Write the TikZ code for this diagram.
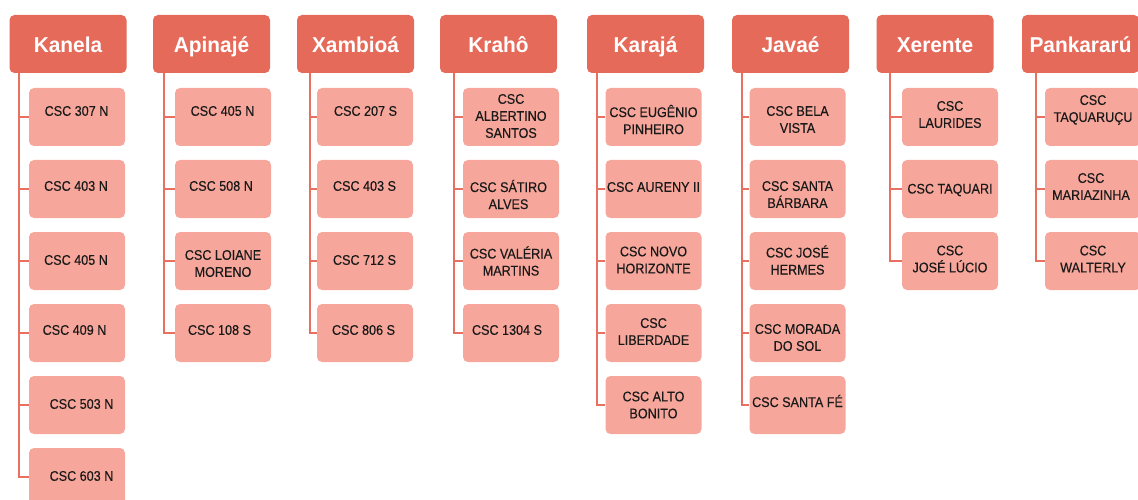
\documentclass[tikz,border=0pt]{standalone}
\usepackage{fontspec}
\setmainfont{Liberation Sans}
\newfontfamily\cscfont{Liberation Sans}[FakeStretch=0.9,FakeBold=0.3]
\newfontfamily\headfont{Liberation Sans}[FakeStretch=0.97]
\definecolor{hdr}{RGB}{230,106,89}
\definecolor{kid}{RGB}{246,166,154}
\definecolor{lnk}{RGB}{232,112,96}
\definecolor{ink}{RGB}{25,25,25}
\tikzset{
  headbox/.style={draw=none, fill=hdr, rounded corners=5pt, minimum width=117pt, minimum height=58pt, inner sep=0pt,
    text height=18pt, text depth=0pt,
    text=white, font=\headfont\bfseries\fontsize{21.5}{24}\selectfont},
  childbox/.style={draw=none, fill=kid, rounded corners=5pt, minimum width=96pt, minimum height=58pt, inner sep=0pt},
  ctext/.style={align=center, text=ink, inner sep=0pt, font=\cscfont\fontsize{14}{17}\selectfont},
  conn/.style={draw=lnk, line width=2pt}
}
\newcommand{\kidnode}[6]{%
  \node[childbox, label={[ctext,xshift=#4pt,yshift=#5pt]center:{#6}}] (#1) at (#2,#3) {};}
\begin{document}
\begin{tikzpicture}[x=1pt,y=-1pt]
\useasboundingbox (0,0) rectangle (1138,500);
\clip (0,0) rectangle (1138,500);
% headers
\node[headbox] (hA) at (68,44) {Kanela};
\node[headbox] (hB) at (211.5,44) {Apinajé};
\node[headbox] (hC) at (355.5,44) {Xambioá};
\node[headbox] (hD) at (498.5,44) {Krahô};
\node[headbox] (hE) at (645.5,44) {Karajá};
\node[headbox] (hF) at (790.5,44) {Javaé};
\node[headbox] (hG) at (935,44) {Xerente};
\node[headbox] (hH) at (1080.5,44) {Pankararú};
% line origins
\coordinate (lA) at ([xshift=10pt]hA.south west);
\coordinate (lB) at ([xshift=11pt]hB.south west);
\coordinate (lC) at ([xshift=13pt]hC.south west);
\coordinate (lD) at ([xshift=14pt]hD.south west);
\coordinate (lE) at ([xshift=10pt]hE.south west);
\coordinate (lF) at ([xshift=10pt]hF.south west);
\coordinate (lG) at ([xshift=14pt]hG.south west);
\coordinate (lH) at ([xshift=14pt]hH.south west);
% Kanela
\kidnode{a1}{77}{117}{-0.5}{6}{CSC 307 N}
\kidnode{a2}{77}{189}{-1}{3}{CSC 403 N}
\kidnode{a3}{77}{261}{-1}{1}{CSC 405 N}
\kidnode{a4}{77}{333}{-2.5}{3}{CSC 409 N}
\kidnode{a5}{77}{405}{4.5}{1}{CSC 503 N}
\kidnode{a6}{77}{477}{4.5}{1}{CSC 603 N}
% Apinaje
\kidnode{b1}{223}{117}{-0.5}{6}{CSC 405 N}
\kidnode{b2}{223}{189}{-2}{3}{CSC 508 N}
\kidnode{b3}{223}{261}{0}{-2.5}{CSC LOIANE\\MORENO}
\kidnode{b4}{223}{333}{-3.5}{3}{CSC 108 S}
% Xambioa
\kidnode{c1}{365}{117}{0.5}{6}{CSC 207 S}
\kidnode{c2}{365}{189}{-0.5}{3}{CSC 403 S}
\kidnode{c3}{365}{261}{-0.5}{1}{CSC 712 S}
\kidnode{c4}{365}{333}{-1.5}{3}{CSC 806 S}
% Kraho
\kidnode{d1}{511}{117}{0}{1}{CSC\\ALBERTINO\\SANTOS}
\kidnode{d2}{511}{189}{-2.5}{-5.5}{CSC SÁTIRO\\ALVES}
\kidnode{d3}{511}{261}{0}{0}{CSC VALÉRIA\\MARTINS}
\kidnode{d4}{511}{333}{-4}{3}{CSC 1304 S}
% Karaja
\kidnode{e1}{653.5}{117}{0}{-2.5}{CSC EUGÊNIO\\PINHEIRO}
\kidnode{e2}{653.5}{189}{0}{2}{CSC AURENY II}
\kidnode{e3}{653.5}{261}{0}{1}{CSC NOVO\\HORIZONTE}
\kidnode{e4}{653.5}{333}{0}{1.5}{CSC\\LIBERDADE}
\kidnode{e5}{653.5}{405}{0}{0}{CSC ALTO\\BONITO}
% Javae
\kidnode{f1}{797.5}{117}{0}{-2.5}{CSC BELA\\VISTA}
\kidnode{f2}{797.5}{189}{0}{-5.5}{CSC SANTA\\BÁRBARA}
\kidnode{f3}{797.5}{261}{0}{1}{CSC JOSÉ\\HERMES}
\kidnode{f4}{797.5}{333}{0}{-4.5}{CSC MORADA\\DO SOL}
\kidnode{f5}{797.5}{405}{0}{4}{CSC SANTA FÉ}
% Xerente
\kidnode{g1}{950}{117}{0}{2.5}{CSC\\LAURIDES}
\kidnode{g2}{950}{189}{0}{-1}{CSC TAQUARI}
\kidnode{g3}{950}{261}{0}{2}{CSC\\JOSÉ LÚCIO}
% Pankararu
\kidnode{h1}{1093}{117}{0}{7}{CSC\\TAQUARUÇU}
\kidnode{h2}{1093}{189}{-2}{2.5}{CSC\\MARIAZINHA}
\kidnode{h3}{1093}{261}{0}{2}{CSC\\WALTERLY}
% connectors
\foreach \n in {1,...,6} {\draw[conn] (lA) |- (a\n.west);}
\foreach \n in {1,...,4} {\draw[conn] (lB) |- (b\n.west);}
\foreach \n in {1,...,4} {\draw[conn] (lC) |- (c\n.west);}
\foreach \n in {1,...,4} {\draw[conn] (lD) |- (d\n.west);}
\foreach \n in {1,...,5} {\draw[conn] (lE) |- (e\n.west);}
\foreach \n in {1,...,5} {\draw[conn] (lF) |- (f\n.west);}
\foreach \n in {1,...,3} {\draw[conn] (lG) |- (g\n.west);}
\foreach \n in {1,...,3} {\draw[conn] (lH) |- (h\n.west);}
\end{tikzpicture}
\end{document}
